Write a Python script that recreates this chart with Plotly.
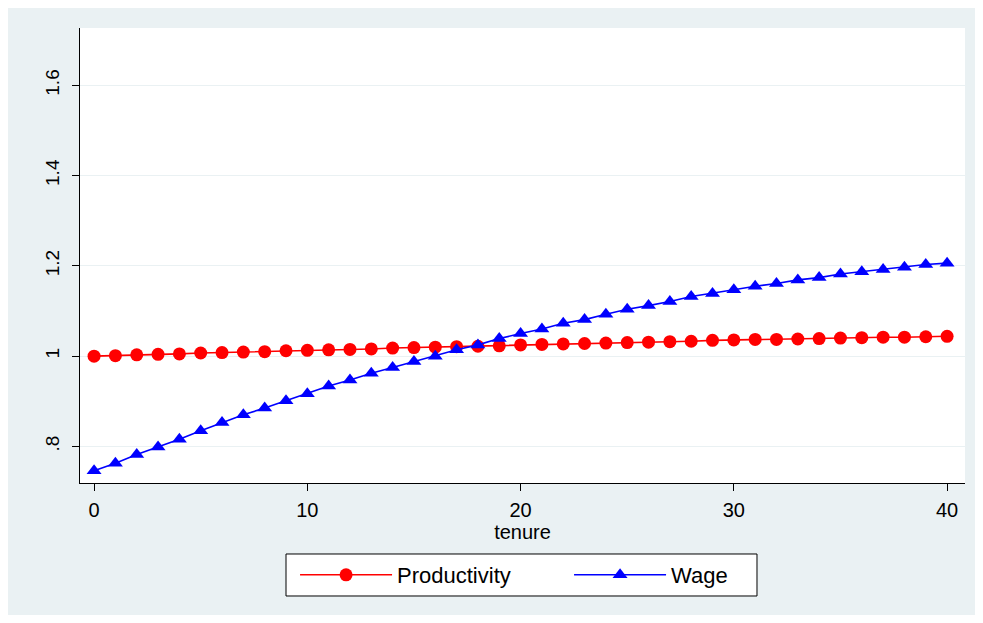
import plotly.graph_objects as go

tenure = list(range(0, 41))
productivity = [1.000, 1.001, 1.003, 1.004, 1.005, 1.007, 1.008, 1.009, 1.010, 1.012,
                1.013, 1.014, 1.015, 1.016, 1.018, 1.019, 1.020, 1.021, 1.022, 1.023,
                1.025, 1.026, 1.027, 1.028, 1.029, 1.030, 1.031, 1.032, 1.033, 1.035,
                1.036, 1.037, 1.037, 1.038, 1.039, 1.040, 1.041, 1.042, 1.042, 1.043,
                1.044]
wage = [0.746, 0.763, 0.782, 0.799, 0.816, 0.835, 0.853, 0.870, 0.885, 0.901,
        0.917, 0.934, 0.947, 0.962, 0.975, 0.988, 1.000, 1.014, 1.025, 1.039,
        1.050, 1.060, 1.073, 1.081, 1.093, 1.104, 1.112, 1.121, 1.132, 1.139,
        1.147, 1.155, 1.161, 1.169, 1.174, 1.182, 1.187, 1.192, 1.197, 1.203,
        1.206]
x_ticks = [0, 10, 20, 30, 40]
y_ticks = [0.8, 1.0, 1.2, 1.4, 1.6]
y_tick_labels = [".8", "1", "1.2", "1.4", "1.6"]

BG = "#EAF1F3"
FONT = "Liberation Sans, Arial, sans-serif"

fig = go.Figure()
fig.add_trace(go.Scatter(
    x=tenure, y=productivity, name="Productivity", mode="lines+markers",
    line=dict(color="#FF0000", width=1.6),
    marker=dict(symbol="circle", size=13, color="#FF0000"),
))
fig.add_trace(go.Scatter(
    x=tenure, y=wage, name="Wage", mode="lines+markers",
    line=dict(color="#0000FF", width=1.6),
    marker=dict(symbol="triangle-up", size=13, color="#0000FF"),
))

# legend frame
fig.add_shape(type="rect", xref="paper", yref="paper",
              x0=0.23277, x1=0.76497, y0=-0.24835, y1=-0.15604,
              fillcolor="white", line=dict(color="black", width=1), layer="below")

fig.update_layout(
    width=975, height=607,
    margin=dict(l=72, r=18, t=20, b=132),
    paper_bgcolor=BG, plot_bgcolor="white",
    font=dict(family=FONT, color="black", size=18),
    showlegend=True,
    legend=dict(
        orientation="h", x=0.2430, xanchor="left", y=-0.156, yanchor="top",
        bgcolor="rgba(0,0,0,0)", borderwidth=0,
        font=dict(size=22, family=FONT),
        itemwidth=92, entrywidth=167, entrywidthmode="pixels",
        itemclick=False, itemdoubleclick=False,
    ),
    xaxis=dict(
        range=[-0.66, 40.84], tickvals=x_ticks, ticks="outside", ticklen=7,
        tickcolor="black", showline=True, linecolor="black", linewidth=1,
        showgrid=False, zeroline=False, tickfont=dict(size=20),
        ticklabelstandoff=2,
        title=dict(text="tenure", font=dict(size=20), standoff=4),
    ),
    yaxis=dict(
        range=[0.719, 1.727], tickvals=y_ticks, ticktext=y_tick_labels,
        ticks="outside", ticklen=7, tickcolor="black", tickangle=-90,
        showline=True, linecolor="black", linewidth=1,
        showgrid=True, gridcolor=BG, gridwidth=1.2, zeroline=False,
        tickfont=dict(size=19), ticklabelstandoff=5,
    ),
)

fig.write_html("out.html")
